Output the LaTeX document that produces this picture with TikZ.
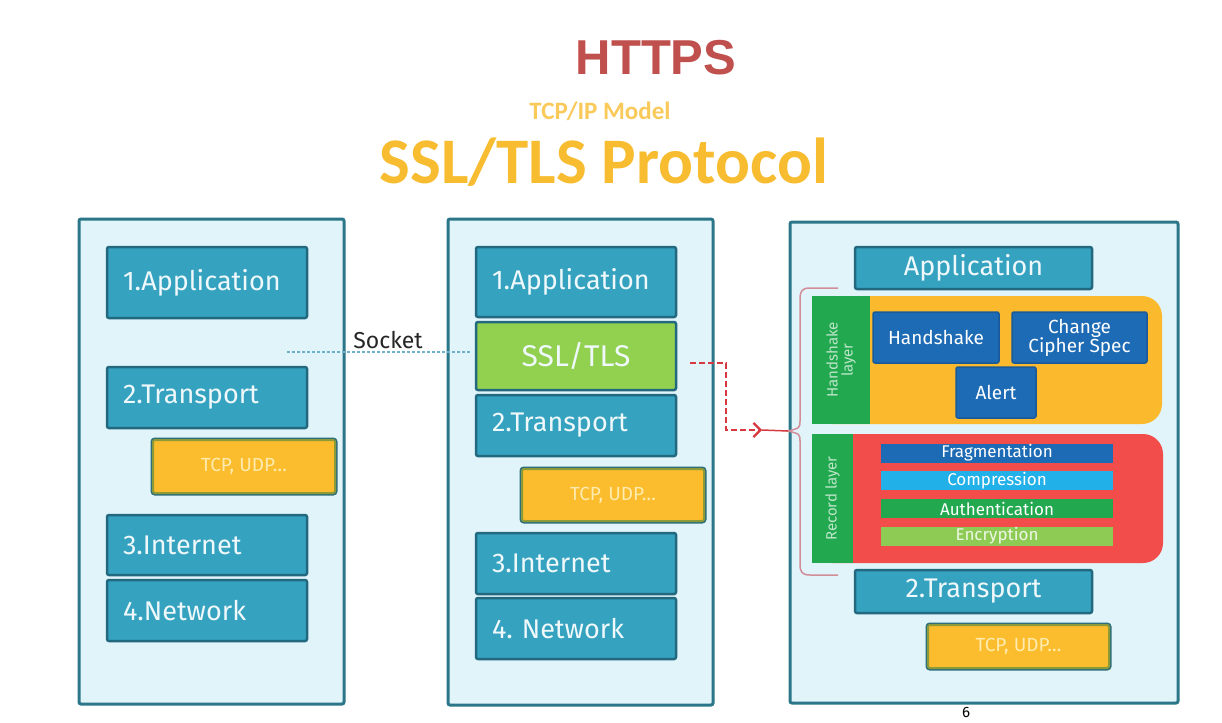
\documentclass[tikz,border=0pt]{standalone}
\usepackage{fontspec}
\usepackage{tikz}
\usetikzlibrary{arrows.meta}
\usetikzlibrary{positioning}
\newfontfamily\boxfont{Fira Sans}
\newfontfamily\capfont{Carlito}
\newfontfamily\headfont{Liberation Sans}
\newcommand{\boxtxt}[1]{\boxfont\fontsize{#1}{#1}\selectfont}
\definecolor{panelfill}{HTML}{E1F4FA}
\definecolor{paneledge}{HTML}{2B7688}
\definecolor{layerfill}{HTML}{35A2C0}
\definecolor{layeredge}{HTML}{22697F}
\definecolor{sslfill}{HTML}{92D050}
\definecolor{tcpfill}{HTML}{FBBD2D}
\definecolor{tcpolive}{HTML}{8C9A38}
\definecolor{tcpedge}{HTML}{2E6E7A}
\definecolor{tcptext}{HTML}{FFEBAE}
\definecolor{hsfill}{HTML}{FBBA2E}
\definecolor{recfill}{HTML}{F24D4A}
\definecolor{stripgreen}{HTML}{22A94F}
\definecolor{hsblue}{HTML}{1E6BB5}
\definecolor{hsedge}{HTML}{1A5A99}
\definecolor{compblue}{HTML}{22B0E8}
\definecolor{encgreen}{HTML}{8DCB55}
\definecolor{bracecol}{HTML}{D18E98}
\definecolor{arrowred}{HTML}{D63A40}
\definecolor{socketblue}{HTML}{6DB1CB}
\definecolor{httpsred}{HTML}{C0504D}
\definecolor{titleorange}{HTML}{F7BC30}
\colorlet{modelorange}{titleorange!80!white}

\begin{document}
\begin{tikzpicture}[
x=1pt,y=-1pt,
Panel/.style={fill=panelfill,draw=paneledge,line width=3pt,rounded corners=2pt,inner sep=0pt},
Layer/.style={fill=layerfill,draw=layeredge,line width=2.5pt,rounded corners=2pt,inner sep=0pt,text=white!92!layerfill,font=\boxtxt{27}},
LeftAlign/.style={text width=168pt,align=left,inner xsep=16pt},
TcpBox/.style={fill=tcpfill,draw=tcpolive,line width=2pt,preaction={draw=tcpedge,line width=5pt},rounded corners=2pt,inner sep=0pt,minimum width=182pt,text=tcptext,font=\boxtxt{19}},
Strip/.style={fill=stripgreen,inner sep=0pt},
StripLabel/.style={rotate=90,text=white!70!stripgreen,font=\boxtxt{15},align=center,inner sep=0pt},
HsBox/.style={fill=hsblue,draw=hsedge,line width=1.5pt,rounded corners=2pt,inner sep=0pt,text=white,font=\boxtxt{19},align=center,minimum height=51pt},
Bar/.style={minimum width=232pt,minimum height=19pt,inner sep=0pt,text=white,font=\boxtxt{17}},
SslArrow/.style={draw=arrowred,line width=2.3pt,dash pattern=on 6pt off 3pt,-{Straight Barb[length=7pt,width=14pt]}},
Brace/.style={draw=bracecol,line width=1.5pt}
]
\useasboundingbox (0,0) rectangle (1222,722);
\fill[white] (0,0) rectangle (1222,722);

% titles
\node[anchor=base,inner sep=0pt,text=httpsred,font=\headfont\bfseries\fontsize{49}{49}\selectfont] (https) at (656,75) {HTTPS};
\node[anchor=base,inner sep=0pt,text=modelorange,font=\capfont\bfseries\fontsize{25}{25}\selectfont] (model) at (600,120) {TCP/IP Model};
\node[anchor=base,inner sep=0pt,text=titleorange,font=\capfont\bfseries\fontsize{65}{65}\selectfont] (title) at (604,183) {SSL/TLS Protocol};

% the three panels
\node[Panel,minimum width=265pt,minimum height=485pt] (lPanel) at (211.5,461.5) {};
\node[Panel,minimum width=265pt,minimum height=486pt] (mPanel) at (580.5,462) {};
\node[Panel,minimum width=388pt,minimum height=481pt] (rPanel) at (984,462.5) {};

% TCP/IP model
\node[Layer,LeftAlign,minimum height=71pt] (lApp) at (207,282.5) {1.Application};
\node[Layer,LeftAlign,minimum height=61pt] (lTrans) at (207,397.5) {2.Transport};
\node[TcpBox,minimum height=53pt] (lTcp) at (244,466.5) {TCP, UDP\ldots};
\node[Layer,LeftAlign,minimum height=60pt] (lInt) at (207,545) {3.Internet};
\node[Layer,LeftAlign,minimum height=61pt] (lNet) at (207,610.5) {4.Network};

% with SSL/TLS
\node[Layer,LeftAlign,minimum height=70pt] (mApp) at (576,282) {1.Application};
\node[Layer,fill=sslfill,minimum width=200pt,minimum height=68pt,font=\boxtxt{30}] (mSsl) at (576,356) {SSL/TLS};
\node[Layer,LeftAlign,minimum height=61pt] (mTrans) at (576,425.5) {2.Transport};
\node[TcpBox,minimum height=52pt] (mTcp) at (613,495) {TCP, UDP\ldots};
\node[Layer,LeftAlign,minimum height=61pt] (mInt) at (576,563.5) {3.Internet};
\node[Layer,LeftAlign,minimum height=61pt] (mNet) at (576,628.5) {4.\ Network};

% socket
\coordinate (sockL) at (287,352);
\coordinate (sockR) at (472,352);
\draw[socketblue,line width=1.2pt,dash pattern=on 3pt off 2pt] (sockL) -- (sockR);
\node[inner sep=0pt,text=black!85,font=\boxtxt{23}] (sockLbl) at (388,340) {Socket};

% SSL/TLS in detail
\node[Layer,minimum width=237pt,minimum height=42pt] (rApp) at (973.5,268) {Application};

\node[fill=hsfill,rounded corners=20pt,minimum width=350pt,minimum height=128pt,inner sep=0pt] (hsGroup) at (987,360) {};
\node[Strip,minimum width=58pt,minimum height=128pt] (hsStrip) at (841,360) {};
\node[StripLabel] (hsLbl) at (hsStrip) {Handshake\\layer};
\node[HsBox,minimum width=126pt] (hsHand) at (936,337.5) {Handshake};
\node[HsBox,minimum width=135pt] (hsCcs) at (1079.5,337.5) {Change\\Cipher Spec};
\node[HsBox,minimum width=80pt] (hsAlert) at (996,392.5) {Alert};

\node[fill=recfill,rounded corners=20pt,minimum width=351pt,minimum height=129pt,inner sep=0pt] (recGroup) at (987.5,498.5) {};
\node[Strip,minimum width=41pt,minimum height=129pt] (recStrip) at (832.5,498.5) {};
\node[StripLabel] (recLbl) at (recStrip) {Record layer};
\node[Bar,fill=hsblue] (recFrag) at (997,453) {Fragmentation};
\node[Bar,fill=compblue] (recComp) at (997,480.5) {Compression};
\node[Bar,fill=stripgreen] (recAuth) at (997,508.5) {Authentication};
\node[Bar,fill=encgreen,text=white!85!encgreen] (recEnc) at (997,536) {Encryption};

\node[Layer,minimum width=237pt,minimum height=43pt] (rTrans) at (973.5,591.5) {2.Transport};
\node[TcpBox,minimum width=181pt,minimum height=43pt] (rTcp) at (1018.5,646.5) {TCP, UDP\ldots};

% brace round both layers
\coordinate (braceTip) at (788,431);
\draw[Brace] (838,288) -- (810,288) .. controls (801,288) and (800,292) .. (800,300) -- (800,420)
  .. controls (800,428) .. (braceTip) .. controls (800,434) .. (800,442) -- (800,564)
  .. controls (800,572) and (802,575) .. (810,575) -- (838,575);

% arrow from SSL/TLS
\coordinate (arrStart) at (690,363);
\coordinate (arrEnd) at (762,430);
\draw[SslArrow] (arrStart) -- ++(36,0) |- (arrEnd);
\draw[arrowred,line width=1.5pt] (arrEnd) -- (braceTip);

\node[anchor=base,inner sep=0pt,font=\boxtxt{15}] (pageNo) at (966,717) {6};
\end{tikzpicture}
\end{document}
